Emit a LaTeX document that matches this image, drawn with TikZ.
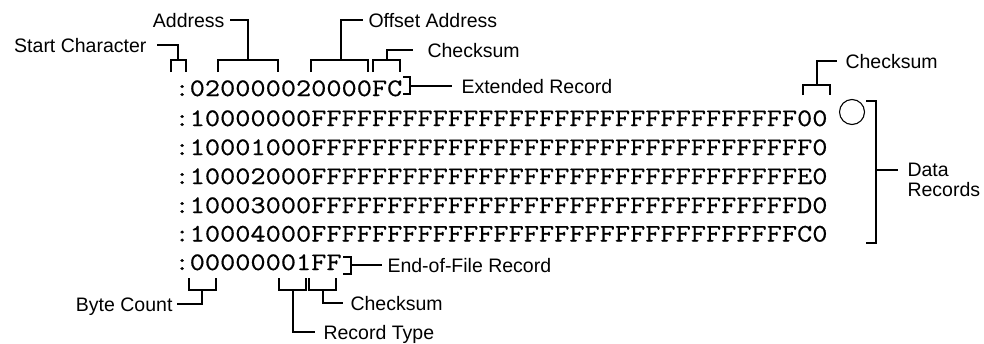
\documentclass[tikz,border=0pt]{standalone}
\usepackage{fontspec}
\setmainfont{Liberation Sans}
\newfontfamily\hexfont[FakeStretch=1.17,FakeBold=0.6]{Latin Modern Mono}
\usetikzlibrary{calc}
\begin{document}
\begin{tikzpicture}[x=1pt,y=-1pt,line width=1.1pt,
  hex/.style={font=\hexfont\fontsize{25.2}{30}\selectfont,inner sep=0,anchor=base west},
  lab/.style={font=\fontsize{19.5}{20}\selectfont,inner sep=0},
  brk/.style={line width=1.1pt}]
\useasboundingbox (0,0) rectangle (984,343);
\def\FF{FFFFFFFFFFFFFFFFFFFFFFFFFFFFFFFF}
% record lines
\node[hex] (r0) at (174,96) {:020000020000FC};
\node[hex] (r1) at (174,126) {:10000000\FF 00};
\node[hex] (r2) at (174,155) {:10001000\FF F0};
\node[hex] (r3) at (174,184) {:10002000\FF E0};
\node[hex] (r4) at (174,213) {:10003000\FF D0};
\node[hex] (r5) at (174,241.5) {:10004000\FF C0};
\node[hex] (r6) at (174,270) {:00000001FF};
\node[circle,draw,minimum size=25pt,inner sep=0] (circ) at (852,112) {};
% labels
\node[lab,anchor=base east] (sc) at (147,52) {Start Character};
\node[lab,anchor=base east] (ad) at (225,27) {Address};
\node[lab,anchor=base west] (of) at (368,27) {Offset Address};
\node[lab,anchor=base west] (ck) at (427,57) {Checksum};
\node[lab,anchor=base west] (ex) at (461,93) {Extended Record};
\node[lab,anchor=base west] (ck2) at (845,68) {Checksum};
\node[lab,anchor=west,align=left] (dr) at (907,180) {Data\\Records};
\node[lab,anchor=base west] (eof) at (387,272) {End-of-File Record};
\node[lab,anchor=base east] (bc) at (173,311) {Byte Count};
\node[lab,anchor=base west] (ck3) at (350,310) {Checksum};
\node[lab,anchor=base west] (rt) at (323,339) {Record Type};
% brackets
\coordinate (scb) at (178,60);
\coordinate (adb) at (248,60);
\coordinate (ofb) at (341,60);
\coordinate (ckb) at (387,60);
\coordinate (ck2b) at (817,85);
\coordinate (exb) at (410,86);
\coordinate (drb) at (876,170);
\coordinate (eofb) at (351,265);
\coordinate (bcb) at (202,290);
\coordinate (rtb) at (293,290);
\coordinate (ck3b) at (323,290);
\draw[brk] (171,72) |- (186,60) -- (186,72);
\draw[brk] (218,72) |- (278,60) -- (278,72);
\draw[brk] (311,72) |- (368,60) -- (368,72);
\draw[brk] (373,72) |- (400,60) -- (400,72);
\draw[brk] (803,95) |- (830,85) -- (830,95);
\draw[brk] (403,77) -| (410,94) -- (403,94);
\draw[brk] (866,101) -| (876,243) -- (866,243);
\draw[brk] (343,257) -| (351,274) -- (343,274);
\draw[brk] (189,278) |- (216,290) -- (216,278);
\draw[brk] (279,278) |- (306,290) -- (306,278);
\draw[brk] (309,278) |- (336,290) -- (336,278);
% connectors
\draw[brk] (scb) |- ($(sc.base east)+(10,-7)$);
\draw[brk] (adb) |- ($(ad.base east)+(5,-7)$);
\draw[brk] (ofb) |- ($(of.base west)+(-5,-7)$);
\draw[brk] (ckb) |- ($(ck.base west)+(-14,-7)$);
\draw[brk] (ck2b) |- ($(ck2.base west)+(-8,-7)$);
\draw[brk] (exb) -- ($(exb -| ex.west)+(-9,0)$);
\draw[brk] (drb) -- ($(drb -| dr.west)+(-9,0)$);
\draw[brk] (eofb) -- ($(eofb -| eof.west)+(-5,0)$);
\draw[brk] (bcb) |- ($(bc.base east)+(4,-7)$);
\draw[brk] (rtb) |- ($(rt.base west)+(-8,-7)$);
\draw[brk] (ck3b) |- ($(ck3.base west)+(-7,-7)$);
\end{tikzpicture}
\end{document}
